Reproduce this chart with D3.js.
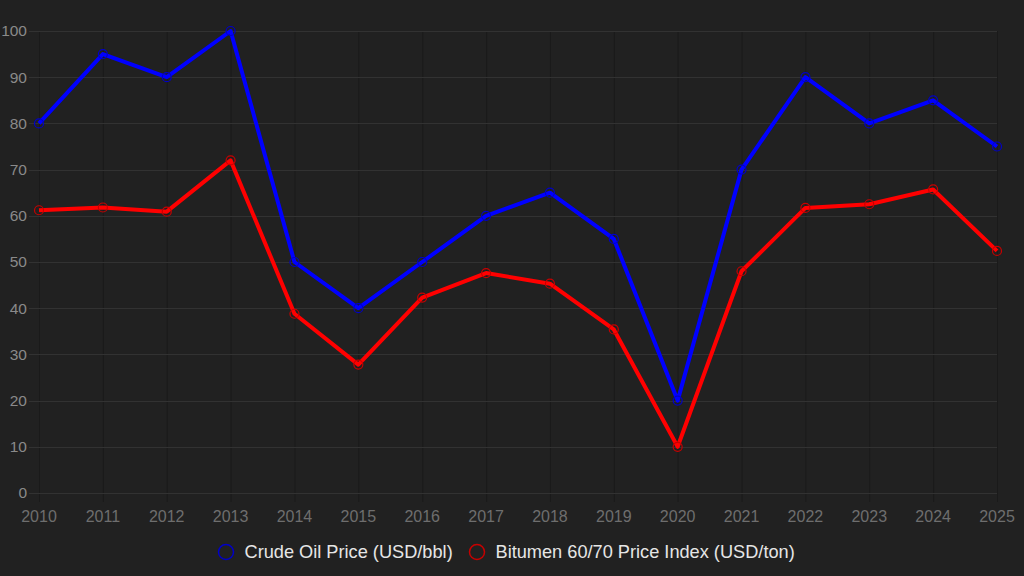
<!DOCTYPE html>
<html><head><meta charset="utf-8">
<script src="https://cdn.jsdelivr.net/npm/d3@7"></script>
<style>html,body{margin:0;padding:0;background:#212121;}svg{display:block;}</style>
</head><body>
<svg id="c" width="1024" height="576"></svg>
<script>
const years = ["2010","2011","2012","2013","2014","2015","2016","2017","2018","2019","2020","2021","2022","2023","2024","2025"];
const crudeOil = [80,95,90,100,50,40,50,60,65,55,20,70,90,80,85,75];
const bitumen = [61.2,61.8,60.9,72.0,38.8,27.8,42.3,47.6,45.3,35.4,10.0,48.0,61.7,62.5,65.7,52.4];
const yTicks = [0,10,20,30,40,50,60,70,80,90,100];
const seriesNames = ["Crude Oil Price (USD/bbl)","Bitumen 60/70 Price Index (USD/ton)"];
const lineColors = ["#0000ff","#ff0000"];
const pointColors = ["#0000c8","#c80000"];

const svg = d3.select("#c");
svg.append("rect").attr("width",1024).attr("height",576).attr("fill","#212121");
const L=39,R=997,T=31,B=493;
const x = d3.scalePoint().domain(years).range([L,R]);
const y = d3.scaleLinear().domain([0,100]).range([B,T]);
const font = "'Liberation Sans', Arial, Helvetica, sans-serif";

// vertical grid
const gx = svg.append("g");
gx.selectAll("line").data(years).join("line")
  .attr("x1",d=>x(d)+0.5).attr("x2",d=>x(d)+0.5).attr("y1",T).attr("y2",B+9)
  .attr("stroke","#1a1a1a").attr("stroke-width",1);
// horizontal grid
const gy = svg.append("g");
gy.selectAll("line").data(yTicks).join("line")
  .attr("x1",L-10).attr("x2",R).attr("y1",d=>Math.round(y(d))+0.5).attr("y2",d=>Math.round(y(d))+0.5)
  .attr("stroke","#323232").attr("stroke-width",1);

// y tick labels
svg.append("g").selectAll("text").data(yTicks).join("text")
  .attr("x",27).attr("y",d=>y(d)).attr("dy","0.35em").attr("text-anchor","end")
  .attr("font-family",font).attr("font-size",15.5).attr("fill","#8a8a8a").text(d=>d);
// x tick labels
svg.append("g").selectAll("text").data(years).join("text")
  .attr("x",d=>x(d)).attr("y",522).attr("text-anchor","middle")
  .attr("font-family",font).attr("font-size",16).attr("fill","#6e6e6e").text(d=>d);

const series = [crudeOil, bitumen];
const line = d3.line().x((d,i)=>x(years[i])).y(d=>y(d));
series.forEach((s,k)=>{
  svg.append("path").datum(s).attr("d",line).attr("fill","none")
    .attr("stroke",lineColors[k]).attr("stroke-width",4).attr("stroke-linejoin","round");
});
series.forEach((s,k)=>{
  svg.append("g").selectAll("circle").data(s).join("circle")
    .attr("cx",(d,i)=>x(years[i])).attr("cy",d=>y(d)).attr("r",4.5)
    .attr("fill","none").attr("stroke",pointColors[k]).attr("stroke-width",1.2);
});

// legend
const leg = [{cx:226,tx:244.5},{cx:477,tx:495.5}];
seriesNames.forEach((n,k)=>{
  svg.append("circle").attr("cx",leg[k].cx).attr("cy",552).attr("r",7.5)
    .attr("fill","none").attr("stroke",pointColors[k]).attr("stroke-width",1.5);
  svg.append("text").attr("x",leg[k].tx).attr("y",552).attr("dy","0.35em")
    .attr("font-family",font).attr("font-size",18.2).attr("fill","#e6e6e6").text(n);
});
</script>
</body></html>
